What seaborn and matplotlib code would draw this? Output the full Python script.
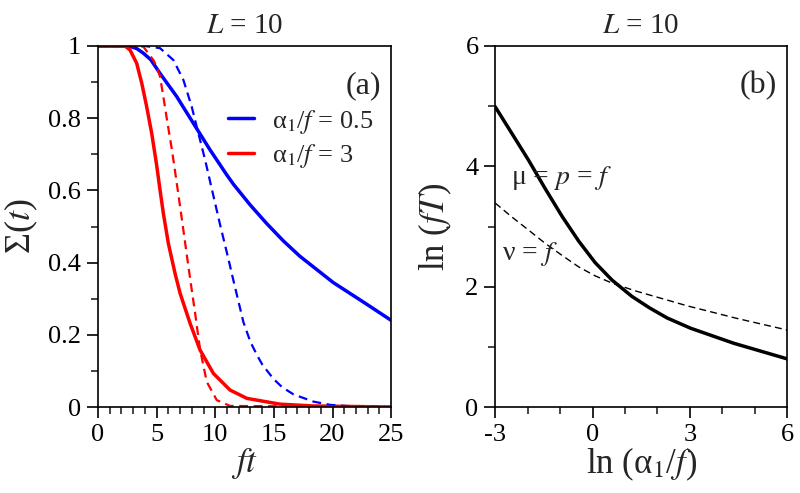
import matplotlib
matplotlib.use('Agg')
import matplotlib.pyplot as plt
from matplotlib.lines import Line2D
from matplotlib.ticker import MultipleLocator
import seaborn as sns

# panel (a): survival curves Sigma(t) vs f t, L = 10
blue_x = [0, 2.0, 2.73, 3.3, 3.87, 4.5, 5.29, 6.71, 8.13, 9.56, 10.98, 11.55, 12.97, 14.39, 15.81, 17.2, 20.05, 22.9, 25]
blue_y = [1, 1, 0.999, 0.993, 0.980, 0.962, 0.924, 0.86, 0.786, 0.712, 0.643, 0.617, 0.56, 0.508, 0.46, 0.418, 0.345, 0.285, 0.24]
blue_dash_x = [0, 4.0, 5.29, 6.43, 7.28, 7.99, 8.56, 8.99, 9.2, 9.84, 10.41, 11.12, 11.55, 12.4, 13.0, 13.54, 14.0, 14.96, 15.7, 16.67, 18.37, 19.8, 22, 25]
blue_dash_y = [1, 1, 0.994, 0.961, 0.906, 0.832, 0.758, 0.703, 0.675, 0.585, 0.505, 0.41, 0.35, 0.235, 0.18, 0.145, 0.118, 0.078, 0.055, 0.035, 0.015, 0.006, 0.001, 0]
red_x = [0, 2.3, 2.73, 3.3, 3.73, 4.15, 4.58, 5.0, 5.29, 5.57, 6.0, 6.57, 7.0, 7.85, 8.7, 9.84, 11.26, 12.69, 15.5, 18.3, 25]
red_y = [1, 1, 0.989, 0.952, 0.897, 0.832, 0.758, 0.67, 0.601, 0.537, 0.453, 0.37, 0.315, 0.232, 0.158, 0.093, 0.047, 0.024, 0.008, 0.003, 0]
red_dash_x = [0, 3.5, 3.87, 4.72, 5.0, 5.29, 5.57, 5.86, 6.29, 6.65, 7.0, 7.28, 7.62, 7.99, 8.28, 8.7, 9.27, 10.13, 11.26, 25]
red_dash_y = [1, 1, 0.998, 0.961, 0.943, 0.915, 0.86, 0.80, 0.715, 0.635, 0.555, 0.49, 0.41, 0.325, 0.26, 0.16, 0.07, 0.019, 0.003, 0]

# panel (b): ln(fT) vs ln(alpha1/f)
mu_x = [-3, -2.49, -1.97, -1.46, -0.94, -0.43, 0.08, 0.6, 1.21, 1.75, 2.3, 3.02, 4.35, 6]
mu_y = [4.99, 4.55, 4.10, 3.63, 3.17, 2.76, 2.40, 2.11, 1.84, 1.65, 1.48, 1.31, 1.06, 0.80]
nu_x = [-3, -2.49, -1.97, -1.46, -0.94, -0.43, 0.08, 0.6, 1.32, 2.93, 4.47, 6]
nu_y = [3.39, 3.16, 2.94, 2.72, 2.52, 2.33, 2.18, 2.06, 1.93, 1.68, 1.47, 1.28]

sns.set_theme(style="ticks")
plt.rcParams['font.family'] = ['Liberation Serif', 'DejaVu Serif']
plt.rcParams['mathtext.fontset'] = 'stix'
plt.rcParams['axes.unicode_minus'] = False
plt.rcParams['font.size'] = 19

fig = plt.figure(figsize=(8, 4.93), dpi=100)
ax1 = fig.add_axes([0.1225, 0.1744, 0.3665, 0.7323])
ax2 = fig.add_axes([0.619, 0.1744, 0.365, 0.7323])

sns.lineplot(x=blue_x, y=blue_y, color='blue', lw=2.5, ax=ax1)
sns.lineplot(x=red_x, y=red_y, color='red', lw=2.5, ax=ax1)
sns.lineplot(x=blue_dash_x, y=blue_dash_y, color='blue', lw=1.6, ls=(0, (4, 2.5)), ax=ax1)
sns.lineplot(x=red_dash_x, y=red_dash_y, color='red', lw=1.6, ls=(0, (4, 2.5)), ax=ax1)

sns.lineplot(x=mu_x, y=mu_y, color='black', lw=2.5, ax=ax2)
sns.lineplot(x=nu_x, y=nu_y, color='black', lw=1.0, ls=(0, (5, 3)), ax=ax2)

for ax in (ax1, ax2):
    for s in ax.spines.values():
        s.set_visible(True)
        s.set_linewidth(1.2)
        s.set_color('black')
    ax.tick_params(which='major', direction='out', length=8, width=1.2, labelsize=19, pad=4, colors='black')
    ax.tick_params(which='minor', direction='out', length=5, width=1.2)
    ax.set_title('$L$ = 10', fontsize=21, pad=9)

ax1.set_xlim(0, 25)
ax1.set_ylim(0, 1)
ax1.xaxis.set_major_locator(MultipleLocator(5))
ax1.xaxis.set_minor_locator(MultipleLocator(1))
ax1.yaxis.set_major_locator(MultipleLocator(0.2))
ax1.yaxis.set_minor_locator(MultipleLocator(0.1))
ax1.set_yticks([0, 0.2, 0.4, 0.6, 0.8, 1.0], ['0', '0.2', '0.4', '0.6', '0.8', '1'])
ax1.set_xlabel('$ft$', fontsize=25, labelpad=0)
ax1.set_ylabel('Σ($t$)', fontsize=26, labelpad=6)
ax1.text(0.965, 0.89, '(a)', transform=ax1.transAxes, ha='right', va='center', fontsize=23)

handles = [Line2D([], [], color='blue', lw=2.5), Line2D([], [], color='red', lw=2.5)]
ax1.legend(handles, ['α$_1$/$f$ = 0.5', 'α$_1$/$f$ = 3'], loc='upper right',
           bbox_to_anchor=(1.02, 0.895), frameon=False, fontsize=19,
           handlelength=0.95, handletextpad=0.7, labelspacing=0.25)

ax2.set_xlim(-3, 6)
ax2.set_ylim(0, 6)
ax2.xaxis.set_major_locator(MultipleLocator(3))
ax2.xaxis.set_minor_locator(MultipleLocator(1))
ax2.yaxis.set_major_locator(MultipleLocator(2))
ax2.yaxis.set_minor_locator(MultipleLocator(1))
ax2.set_xlabel('ln (α$_1$/$f$)', fontsize=25, labelpad=0)
ax2.set_ylabel('ln ($fT$)', fontsize=25, labelpad=8)
ax2.text(0.965, 0.89, '(b)', transform=ax2.transAxes, ha='right', va='center', fontsize=23)
ax2.text(-2.5, 3.8, 'μ = $p$ = $f$', fontsize=20, ha='left', va='center')
ax2.text(-2.78, 2.55, 'ν = $f$', fontsize=20, ha='left', va='center')

fig.savefig('out.png', dpi=100)
